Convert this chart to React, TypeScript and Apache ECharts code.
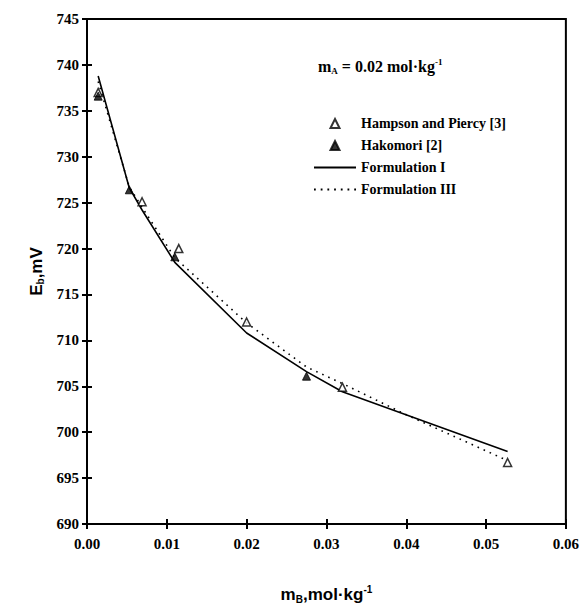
import React, { useEffect, useRef } from "react";
import * as echarts from "echarts";

const hampsonX = [0.0014, 0.0069, 0.0115, 0.02, 0.032, 0.0527];
const hampsonY = [737.0, 725.1, 720.0, 712.0, 704.9, 696.7];
const hakomoriX = [0.0014, 0.0053, 0.011, 0.0275];
const hakomoriY = [736.6, 726.4, 719.1, 706.1];
const form1X = [0.0014, 0.0053, 0.0069, 0.011, 0.02, 0.0275, 0.032, 0.0527];
const form1Y = [738.8, 726.6, 724.2, 718.5, 710.8, 706.6, 704.4, 697.9];
const form3X = [0.0014, 0.0053, 0.0069, 0.011, 0.02, 0.0275, 0.032, 0.04, 0.0527];
const form3Y = [738.2, 726.7, 724.5, 719.0, 711.9, 707.1, 705.3, 701.9, 696.9];

const xTicks = { min: 0, max: 0.06, interval: 0.01 };
const yTicks = { min: 690, max: 745, interval: 5 };

const zip = (xs: number[], ys: number[]) => xs.map((x, i) => [x, ys[i]]);

const SERIF = "'Liberation Serif', 'Times New Roman', serif";
const SANS = "'Liberation Sans', Arial, sans-serif";
const TRI = "path://M5,0 L10,10 L0,10 Z";
const SOLID_ICON = "path://M0,0 L42,0 L42,1.8 L0,1.8 Z";
const DOT_ICON =
  "path://M0,0h1.8v1.8h-1.8z M6.7,0h1.8v1.8h-1.8z M13.4,0h1.8v1.8h-1.8z M20.1,0h1.8v1.8h-1.8z M26.8,0h1.8v1.8h-1.8z M33.5,0h1.8v1.8h-1.8z M40.2,0h1.8v1.8h-1.8z";

export default function App() {
  const ref = useRef<HTMLDivElement>(null);
  useEffect(() => {
    document.body.style.margin = "0";
    const chart = echarts.init(ref.current!, null, { renderer: "svg" });
    const labelStyle = { fontFamily: SERIF, fontWeight: "bold" as const, fontSize: 15, color: "#000" };
    const baseX = {
      type: "value" as const,
      min: xTicks.min,
      max: xTicks.max,
      interval: xTicks.interval,
      splitLine: { show: false },
      axisLine: { lineStyle: { color: "#000", width: 2 } },
    };
    const baseY = {
      type: "value" as const,
      min: yTicks.min,
      max: yTicks.max,
      interval: yTicks.interval,
      splitLine: { show: false },
      axisLine: { lineStyle: { color: "#000", width: 2 } },
    };
    chart.setOption({
      animation: false,
      backgroundColor: "#fff",
      grid: {
        left: 87,
        right: 16,
        top: 19,
        bottom: 85,
        show: true,
        borderColor: "#000",
        borderWidth: 2,
      },
      title: {
        left: 318,
        top: 57,
        padding: 0,
        text: "{b|m}{s|A}{b| = 0.02 mol·kg}{p|-1}",
        textStyle: {
          rich: {
            b: { fontFamily: SERIF, fontWeight: "bold", fontSize: 16, color: "#000" },
            s: { fontFamily: SERIF, fontWeight: "bold", fontSize: 9, color: "#000", verticalAlign: "bottom", padding: [7, 0, 0, 0] },
            p: { fontFamily: SERIF, fontWeight: "bold", fontSize: 9, color: "#000", padding: [0, 0, 9, 0] },
          },
        },
      },
      legend: {
        left: 314,
        top: 116,
        padding: 0,
        orient: "vertical",
        itemWidth: 42,
        itemHeight: 9,
        itemGap: 7,
        symbolKeepAspect: true,
        textStyle: { fontFamily: SERIF, fontWeight: "bold", fontSize: 14, color: "#000", lineHeight: 15 },
        data: [
          { name: "Hampson and Piercy [3]", icon: TRI },
          { name: "Hakomori [2]", icon: TRI },
          { name: "Formulation I", icon: SOLID_ICON, itemStyle: { color: "#000", borderWidth: 0 } },
          { name: "Formulation III", icon: DOT_ICON, itemStyle: { color: "#000", borderWidth: 0 } },
        ],
      },
      xAxis: [
        {
          ...baseX,
          position: "bottom",
          axisTick: { show: true, inside: false, length: 5, lineStyle: { color: "#000", width: 2 } },
          axisLabel: { ...labelStyle, margin: 12, formatter: (v: number) => v.toFixed(2) },
          name: "{a|m}{s|B}{a|,mol·kg}{p|-1}",
          nameLocation: "middle",
          nameGap: 60,
          nameTextStyle: {
            rich: {
              a: { fontFamily: SANS, fontWeight: "bold", fontSize: 17, color: "#000" },
              s: { fontFamily: SANS, fontWeight: "bold", fontSize: 10, color: "#000", verticalAlign: "bottom", padding: [8, 0, 0, 0] },
              p: { fontFamily: SANS, fontWeight: "bold", fontSize: 10, color: "#000", padding: [0, 0, 10, 0] },
            },
          },
        },
        {
          ...baseX,
          position: "bottom",
          axisTick: { show: true, inside: true, length: 5, lineStyle: { color: "#000", width: 2 } },
          axisLabel: { show: false },
        },
      ],
      yAxis: [
        {
          ...baseY,
          position: "left",
          axisTick: { show: true, inside: false, length: 5, lineStyle: { color: "#000", width: 2 } },
          axisLabel: { ...labelStyle, margin: 8 },
          name: "{a|E}{s|b}{a|,mV}",
          nameLocation: "middle",
          nameGap: 40,
          nameRotate: 90,
          nameTextStyle: {
            rich: {
              a: { fontFamily: SANS, fontWeight: "bold", fontSize: 17, color: "#000" },
              s: { fontFamily: SANS, fontWeight: "bold", fontSize: 10, color: "#000", verticalAlign: "bottom", padding: [8, 0, 0, 0] },
            },
          },
        },
        {
          ...baseY,
          position: "left",
          axisTick: { show: true, inside: true, length: 5, lineStyle: { color: "#000", width: 2 } },
          axisLabel: { show: false },
        },
      ],
      series: [
        {
          name: "Formulation I",
          type: "line",
          data: zip(form1X, form1Y),
          symbol: "none",
          lineStyle: { color: "#000", width: 1.6, type: "solid" },
          itemStyle: { color: "#000" },
        },
        {
          name: "Formulation III",
          type: "line",
          data: zip(form3X, form3Y),
          symbol: "none",
          lineStyle: { color: "#000", width: 1.6, type: [1.6, 5] },
          itemStyle: { color: "#000" },
        },
        {
          name: "Hampson and Piercy [3]",
          type: "scatter",
          data: zip(hampsonX, hampsonY),
          symbol: "triangle",
          symbolSize: 8,
          itemStyle: { color: "#fff", borderColor: "#000", borderWidth: 1.5 },
          z: 3,
        },
        {
          name: "Hakomori [2]",
          type: "scatter",
          data: zip(hakomoriX, hakomoriY),
          symbol: "triangle",
          symbolSize: 8,
          itemStyle: { color: "#000", borderColor: "#000", borderWidth: 1 },
          z: 4,
        },
      ],
    });
    return () => chart.dispose();
  }, []);
  return <div ref={ref} style={{ width: 582, height: 609 }} />;
}
